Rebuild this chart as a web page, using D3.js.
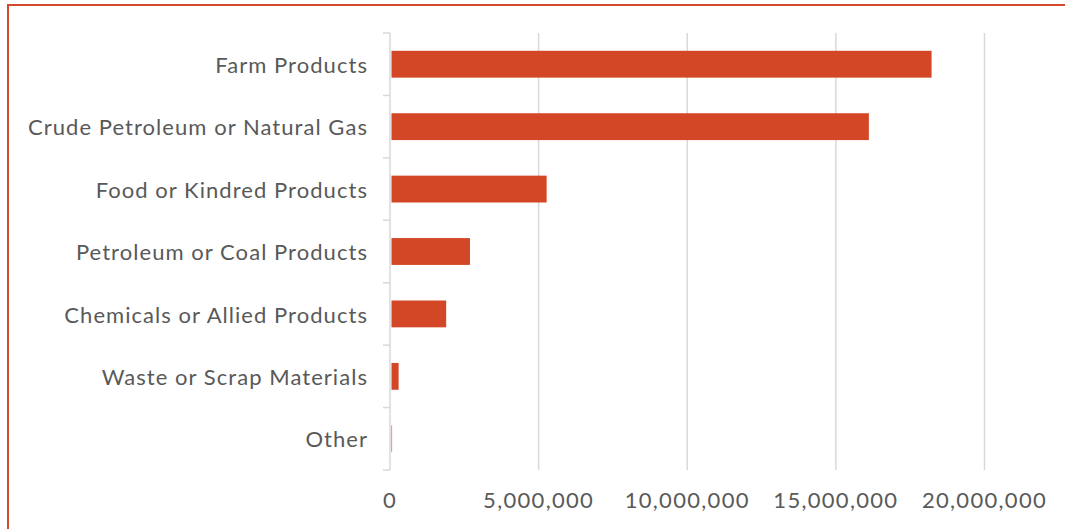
<!DOCTYPE html>
<html>
<head>
<meta charset="utf-8">
<script src="https://cdn.jsdelivr.net/npm/d3@7"></script>
<style>
  html, body { margin: 0; padding: 0; background: #fff; }
  svg { display: block; }
  text { font-family: "Lato", "Noto Sans", sans-serif; fill: #595959; }
  .cat-label { letter-spacing: 1.05px; }
  .val-label { letter-spacing: 1.3px; }
</style>
</head>
<body>
<svg id="chart" width="1065" height="529"></svg>
<script>
// Commodity groups and their values
const categories = [
  "Farm Products",
  "Crude Petroleum or Natural Gas",
  "Food or Kindred Products",
  "Petroleum or Coal Products",
  "Chemicals or Allied Products",
  "Waste or Scrap Materials",
  "Other"
];
const values = [18220000, 16110000, 5270000, 2690000, 1890000, 290000, 70000];
const tickValues = [0, 5000000, 10000000, 15000000, 20000000];

(function draw() {
  const svg = d3.select("#chart");
  const W = 1065, H = 529;

  // outer frame (runs off the right and bottom edges)
  svg.append("rect")
    .attr("x", 8).attr("y", 5)
    .attr("width", W + 20).attr("height", H + 20)
    .attr("fill", "#fff")
    .attr("stroke", "#D24A2B")
    .attr("stroke-width", 2);

  const plotLeft = 390, plotRight = 984.5, plotTop = 33, plotBottom = 470;

  const x = d3.scaleLinear().domain([0, 20000000]).range([plotLeft, plotRight]);
  const y = d3.scaleBand().domain(categories).range([plotTop, plotBottom])
    .paddingInner(0.57).paddingOuter(0.285);

  // vertical gridlines
  svg.append("g").selectAll("line")
    .data(tickValues.slice(1))
    .join("line")
    .attr("x1", d => x(d)).attr("x2", d => x(d))
    .attr("y1", plotTop).attr("y2", plotBottom)
    .attr("stroke", "#d9d9d9").attr("stroke-width", 1.5);

  // bars
  svg.append("g").selectAll("rect")
    .data(values)
    .join("rect")
    .attr("x", x(0) + 1.5)
    .attr("y", (d, i) => y(categories[i]))
    .attr("width", d => Math.max(0, x(d) - x(0) - 1.5))
    .attr("height", y.bandwidth())
    .attr("fill", "#D34727");

  // category axis with ticks at band boundaries
  const yAxis = svg.append("g");
  yAxis.append("line")
    .attr("x1", plotLeft).attr("x2", plotLeft)
    .attr("y1", plotTop).attr("y2", plotBottom)
    .attr("stroke", "#d9d9d9").attr("stroke-width", 1.5);
  const step = (plotBottom - plotTop) / categories.length;
  yAxis.selectAll("line.tick")
    .data(d3.range(categories.length + 1))
    .join("line")
    .attr("class", "tick")
    .attr("x1", plotLeft - 7).attr("x2", plotLeft)
    .attr("y1", i => plotTop + i * step).attr("y2", i => plotTop + i * step)
    .attr("stroke", "#d9d9d9").attr("stroke-width", 1.5);
  yAxis.selectAll("text")
    .data(categories)
    .join("text")
    .attr("class", "cat-label")
    .attr("x", plotLeft - 22)
    .attr("y", d => y(d) + y.bandwidth() / 2 + 1)
    .attr("dy", "0.35em")
    .attr("text-anchor", "end")
    .style("font-size", "22px")
    .text(d => d);

  // value axis labels
  const fmt = d3.format(",");
  svg.append("g").selectAll("text")
    .data(tickValues)
    .join("text")
    .attr("class", "val-label")
    .attr("x", d => x(d))
    .attr("y", 500)
    .attr("dy", "0.35em")
    .attr("text-anchor", "middle")
    .style("font-size", "22px")
    .text(d => fmt(d));
})();
</script>
</body>
</html>
